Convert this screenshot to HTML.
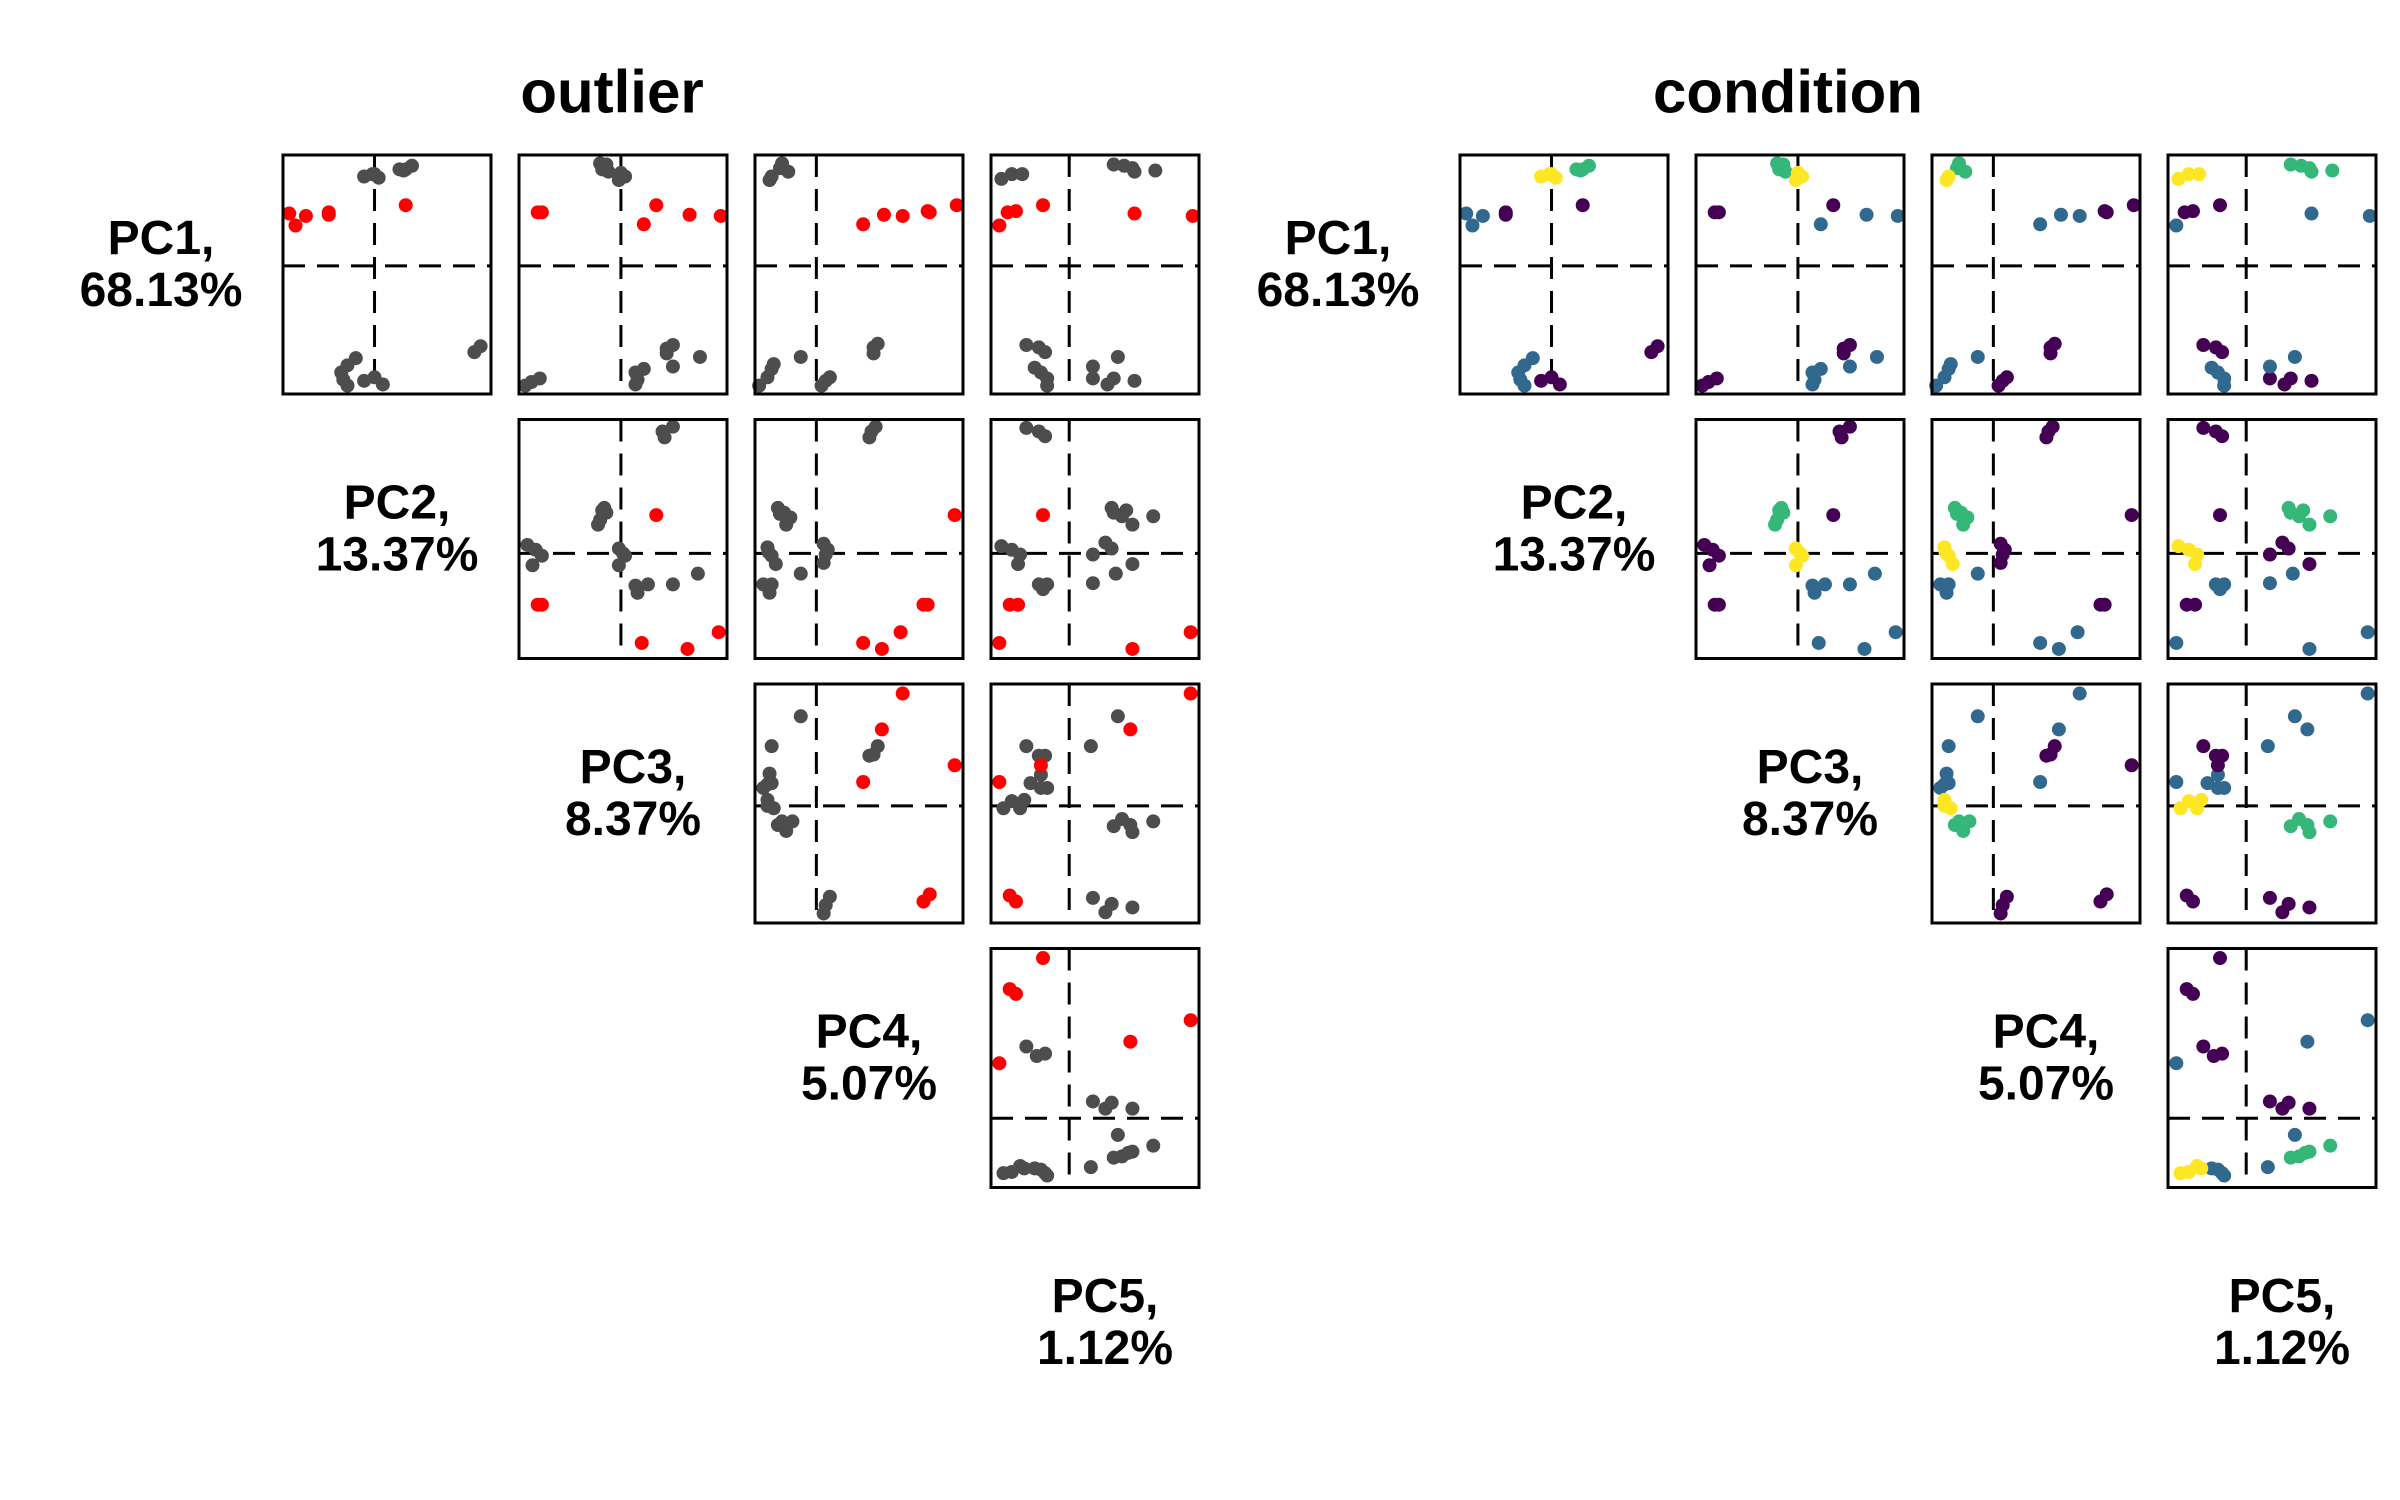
<!DOCTYPE html>
<html><head><meta charset="utf-8"><style>
html,body{margin:0;padding:0;background:#fff;}
svg{display:block;font-family:"Liberation Sans",sans-serif;}
</style></head><body>
<svg id="chart" width="2400" height="1500" viewBox="0 0 2400 1500" xmlns="http://www.w3.org/2000/svg">
<rect width="2400" height="1500" fill="#fff"/>
<text x="612" y="92" font-size="60" font-weight="bold" text-anchor="middle" dominant-baseline="central">outlier</text>
<text x="1788" y="92" font-size="60" font-weight="bold" text-anchor="middle" dominant-baseline="central">condition</text>
</svg>
<script>
// PC labels
const pcNames = ["PC1,","PC2,","PC3,","PC4,","PC5,"];
const pcVariance = ["68.13%","13.37%","8.37%","5.07%","1.12%"];
// zero-line positions (fraction of panel) per PC
const zeroX = {2:0.44,3:0.49,4:0.295,5:0.376};
const zeroY = {1:0.536,2:0.44,3:0.49,4:0.29};
// panel data: [x fraction, y fraction, group]; lower-case group = outlier
const p_r1c2 = [[.39,.91,'Y'],[.43,.92,'Y'],[.46,.905,'Y'],[.44,.92,'Y'],[.56,.94,'G'],[.59,.94,'G'],[.62,.955,'G'],[.58,.935,'G'],[.03,.755,'b'],[.11,.745,'b'],[.06,.705,'b'],[.22,.76,'p'],[.22,.75,'p'],[.59,.79,'p'],[.35,.15,'B'],[.31,.12,'B'],[.28,.09,'B'],[.29,.06,'B'],[.31,.035,'B'],[.39,.055,'P'],[.44,.07,'P'],[.48,.04,'P'],[.92,.175,'P'],[.95,.2,'P']];
const p_r1c3 = [[.39,.965,'G'],[.42,.96,'G'],[.40,.94,'G'],[.43,.93,'G'],[.49,.925,'Y'],[.51,.91,'Y'],[.48,.895,'Y'],[.09,.76,'p'],[.11,.76,'p'],[.66,.79,'p'],[.82,.75,'b'],[.97,.745,'b'],[.60,.71,'b'],[.03,.035,'P'],[.06,.05,'P'],[.10,.065,'P'],[.71,.19,'P'],[.74,.205,'P'],[.71,.17,'P'],[.56,.09,'B'],[.57,.06,'B'],[.60,.105,'B'],[.56,.04,'B'],[.74,.115,'B'],[.87,.155,'B']];
const p_r1c4 = [[.13,.965,'G'],[.16,.93,'G'],[.12,.945,'G'],[.08,.91,'Y'],[.07,.895,'Y'],[.52,.71,'b'],[.62,.75,'b'],[.71,.745,'b'],[.83,.765,'p'],[.84,.76,'p'],[.97,.79,'p'],[.02,.035,'B'],[.06,.07,'B'],[.08,.105,'B'],[.09,.125,'B'],[.22,.155,'B'],[.34,.055,'P'],[.36,.07,'P'],[.32,.035,'P'],[.57,.195,'P'],[.59,.21,'P'],[.57,.17,'P']];
const p_r1c5 = [[.05,.90,'Y'],[.10,.92,'Y'],[.15,.92,'Y'],[.59,.96,'G'],[.64,.955,'G'],[.68,.945,'G'],[.69,.93,'G'],[.79,.935,'G'],[.08,.76,'p'],[.12,.765,'p'],[.25,.79,'p'],[.04,.705,'b'],[.69,.755,'b'],[.97,.745,'b'],[.17,.205,'P'],[.23,.195,'P'],[.26,.175,'P'],[.49,.065,'P'],[.56,.04,'P'],[.59,.065,'P'],[.69,.055,'P'],[.21,.11,'B'],[.24,.09,'B'],[.27,.065,'B'],[.27,.035,'B'],[.49,.115,'B'],[.61,.155,'B']];
const p_r2c3 = [[.69,.95,'P'],[.74,.97,'P'],[.70,.925,'P'],[.40,.62,'G'],[.42,.61,'G'],[.39,.58,'G'],[.38,.56,'G'],[.41,.63,'G'],[.66,.60,'p'],[.09,.225,'p'],[.11,.225,'p'],[.04,.475,'P'],[.08,.455,'P'],[.11,.43,'P'],[.065,.39,'P'],[.48,.46,'Y'],[.50,.44,'Y'],[.48,.39,'Y'],[.51,.43,'Y'],[.56,.305,'B'],[.62,.31,'B'],[.57,.275,'B'],[.74,.31,'B'],[.86,.355,'B'],[.59,.065,'b'],[.81,.04,'b'],[.96,.11,'b']];
const p_r2c4 = [[.56,.95,'P'],[.58,.97,'P'],[.55,.925,'P'],[.11,.63,'G'],[.14,.61,'G'],[.17,.59,'G'],[.15,.56,'G'],[.12,.605,'G'],[.96,.60,'p'],[.81,.225,'p'],[.83,.225,'p'],[.33,.48,'P'],[.35,.455,'P'],[.33,.40,'P'],[.34,.435,'P'],[.06,.465,'Y'],[.08,.43,'Y'],[.10,.395,'Y'],[.065,.445,'Y'],[.04,.31,'B'],[.08,.31,'B'],[.07,.275,'B'],[.22,.355,'B'],[.52,.065,'b'],[.61,.04,'b'],[.70,.11,'b']];
const p_r2c5 = [[.17,.965,'P'],[.23,.95,'P'],[.26,.93,'P'],[.25,.60,'p'],[.09,.225,'p'],[.13,.225,'p'],[.58,.63,'G'],[.59,.61,'G'],[.65,.62,'G'],[.63,.595,'G'],[.68,.56,'G'],[.78,.595,'G'],[.55,.485,'P'],[.58,.46,'P'],[.49,.435,'P'],[.68,.395,'P'],[.05,.47,'Y'],[.10,.455,'Y'],[.14,.435,'Y'],[.13,.395,'Y'],[.23,.31,'B'],[.25,.29,'B'],[.27,.31,'B'],[.49,.315,'B'],[.60,.355,'B'],[.04,.065,'b'],[.68,.04,'b'],[.96,.11,'b']];
const p_r3c4 = [[.71,.96,'b'],[.61,.81,'b'],[.52,.59,'b'],[.22,.865,'B'],[.08,.74,'B'],[.07,.625,'B'],[.08,.585,'B'],[.04,.565,'B'],[.06,.58,'B'],[.59,.74,'P'],[.55,.70,'P'],[.57,.705,'P'],[.96,.66,'p'],[.84,.12,'p'],[.81,.09,'p'],[.06,.515,'Y'],[.09,.48,'Y'],[.06,.49,'Y'],[.13,.425,'G'],[.18,.425,'G'],[.15,.385,'G'],[.11,.41,'G'],[.36,.11,'P'],[.34,.075,'P'],[.33,.04,'P']];
const p_r3c5 = [[.96,.96,'b'],[.67,.81,'b'],[.04,.59,'b'],[.61,.865,'B'],[.48,.74,'B'],[.19,.585,'B'],[.24,.565,'B'],[.27,.565,'B'],[.24,.62,'B'],[.17,.74,'P'],[.23,.70,'P'],[.26,.70,'P'],[.24,.66,'p'],[.09,.115,'p'],[.12,.09,'p'],[.06,.48,'Y'],[.10,.51,'Y'],[.14,.48,'Y'],[.16,.515,'Y'],[.59,.405,'G'],[.63,.435,'G'],[.67,.41,'G'],[.68,.38,'G'],[.78,.425,'G'],[.49,.105,'P'],[.58,.08,'P'],[.55,.045,'P'],[.68,.065,'P']];
const p_r4c5 = [[.25,.96,'p'],[.09,.83,'p'],[.12,.81,'p'],[.17,.59,'P'],[.22,.55,'P'],[.26,.56,'P'],[.04,.52,'b'],[.96,.70,'b'],[.67,.61,'b'],[.49,.36,'P'],[.58,.355,'P'],[.55,.33,'P'],[.68,.33,'P'],[.61,.22,'B'],[.48,.085,'B'],[.21,.08,'B'],[.24,.075,'B'],[.27,.05,'B'],[.26,.06,'B'],[.59,.125,'G'],[.63,.13,'G'],[.66,.145,'G'],[.68,.15,'G'],[.78,.175,'G'],[.06,.06,'Y'],[.10,.065,'Y'],[.14,.09,'Y'],[.16,.08,'Y']];

const panels = {"1-2":p_r1c2,"1-3":p_r1c3,"1-4":p_r1c4,"1-5":p_r1c5,"2-3":p_r2c3,"2-4":p_r2c4,"2-5":p_r2c5,"3-4":p_r3c4,"3-5":p_r3c5,"4-5":p_r4c5};
const condColor = {Y:"#fde725",G:"#35b779",B:"#31688e",P:"#440154"};
const NS = "http://www.w3.org/2000/svg";
const svg = document.getElementById("chart");
const PW = 208, PH = 239;
function colLeft(g, c){ return g.x0 + (c-2)*236; }
function rowTop(r){ return 155 + (r-1)*264.5; }
function sx(left, v){ return left + v*PW; }
function sy(top, v){ return top + (1-v)*PH; }
function mk(tag, attrs){ const e = document.createElementNS(NS, tag); for (const k in attrs) e.setAttribute(k, attrs[k]); return e; }

const grids = [{key:"outlier", x0:283}, {key:"condition", x0:1460}];
grids.forEach(g => {
  const gg = mk("g", {});
  
  
  svg.appendChild(gg);
  for (let r = 1; r <= 5; r++) {
    const cx = colLeft(g, r) + PW/2 + 10;
    const cy = rowTop(r) + PH/2;
    const t1 = mk("text", {x:cx, y:cy-36, "font-size":48, "font-weight":"bold", "text-anchor":"middle", "dominant-baseline":"central"});
    t1.textContent = pcNames[r-1];
    
    
    gg.appendChild(t1);
    const t2 = mk("text", {x:cx, y:cy+16, "font-size":48, "font-weight":"bold", "text-anchor":"middle", "dominant-baseline":"central"});
    t2.textContent = pcVariance[r-1];
    
    
    gg.appendChild(t2);
    for (let c = r+1; c <= 5; c++) {
      const left = colLeft(g, c), top = rowTop(r);
      const pg = mk("g", {});
      
      
      gg.appendChild(pg);
      const vx = sx(left, zeroX[c]), hy = sy(top, zeroY[r]);
      const vl = mk("line", {x1:vx, y1:top, x2:vx, y2:top+PH, stroke:"#000", "stroke-width":3, "stroke-dasharray":"22 12"});
      
      
      pg.appendChild(vl);
      const hl = mk("line", {x1:left, y1:hy, x2:left+PW, y2:hy, stroke:"#000", "stroke-width":3, "stroke-dasharray":"22 12"});
      
      
      pg.appendChild(hl);
      panels[r + "-" + c].forEach(d => {
        const grp = d[2];
        const isOut = grp === grp.toLowerCase();
        const fill = g.key === "outlier" ? (isOut ? "#ff0000" : "#4d4d4d") : condColor[grp.toUpperCase()];
        const ci = mk("circle", {cx:sx(left, d[0]), cy:sy(top, d[1]), r:7, fill:fill});
        
        
        pg.appendChild(ci);
      });
      const fr = mk("rect", {x:left, y:top, width:PW, height:PH, fill:"none", stroke:"#000", "stroke-width":3});
      
      
      pg.appendChild(fr);
    }
  }
});
</script>
</body></html>
